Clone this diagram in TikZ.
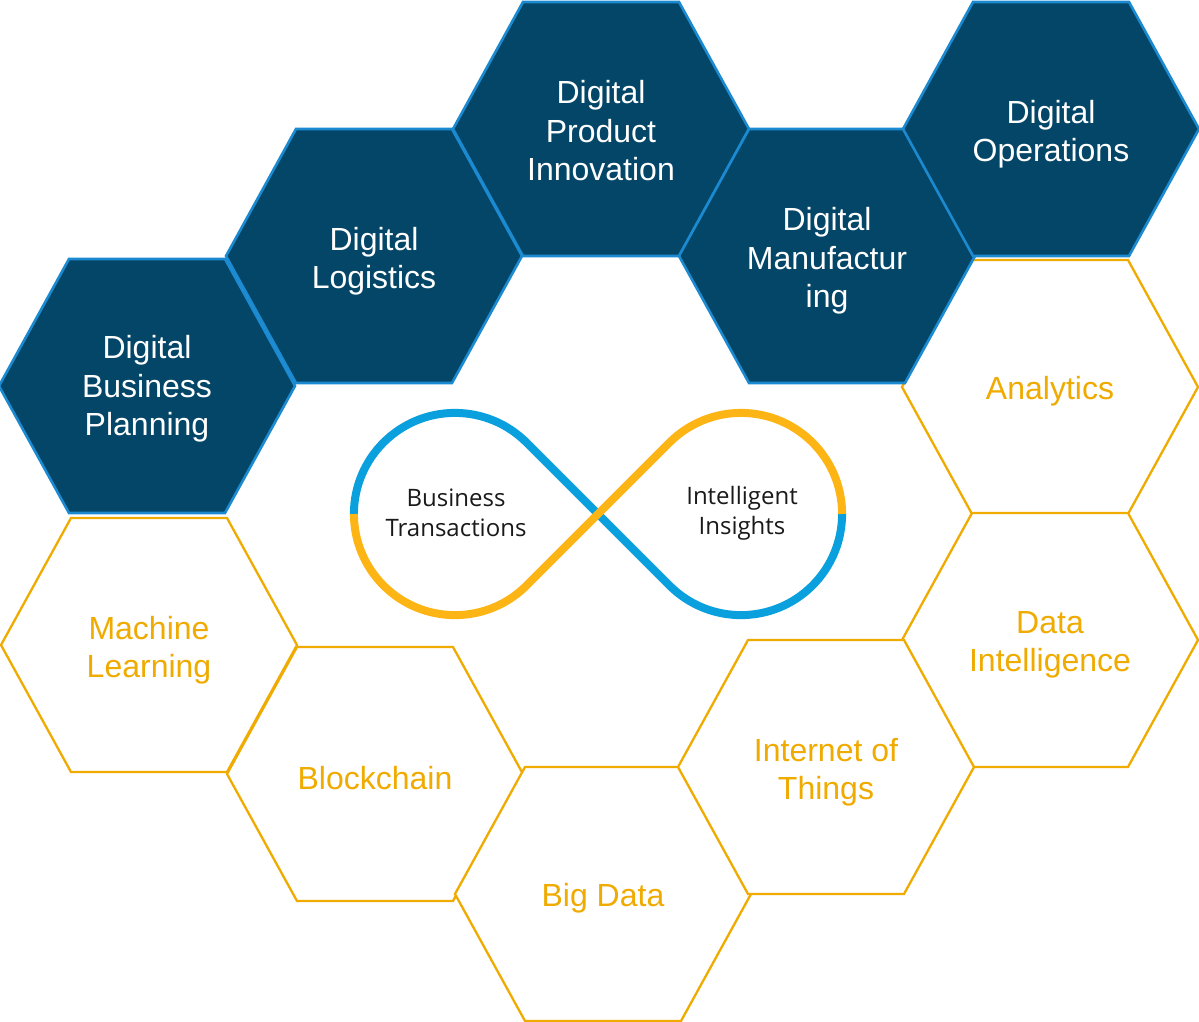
\documentclass[tikz,border=0pt]{standalone}
\usepackage{fontspec}
\setmainfont{Liberation Sans}
\newfontfamily\inffont{Open Sans}
\definecolor{navy}{HTML}{044668}
\definecolor{edgeblue}{HTML}{1B8AD0}
\definecolor{gold}{HTML}{F0AB00}
\definecolor{infblue}{HTML}{0AA0DE}
\definecolor{infgold}{HTML}{FDB515}
\definecolor{inftext}{HTML}{1A1A1A}
\tikzset{
  pics/hexa/.style={code={\path[pic actions] (-148,0) -- (-78,-127) -- (78,-127) -- (148,0) -- (78,127) -- (-78,127) -- cycle;}},
  darkhex/.style={fill=navy, draw=edgeblue, line width=2.6pt, line join=miter},
  lighthex/.style={fill=white, draw=gold, line width=2.3pt, line join=miter},
  dtext/.style={text=white, align=center, font=\fontsize{32}{38.5}\selectfont, inner sep=0pt},
  ltext/.style={text=gold, align=center, font=\fontsize{32}{38.5}\selectfont, inner sep=0pt},
  itext/.style={text=inftext, align=center, font=\inffont\fontsize{24}{30}\selectfont, inner sep=0pt},
  loopline/.style={line width=8pt, line cap=butt}
}
\begin{document}
\begin{tikzpicture}[x=1pt,y=-1pt]
\useasboundingbox (0,0) rectangle (1199,1022);
% light hexagons
\pic[lighthex] at (1050,387) {hexa};
\pic[lighthex] at (1050,640) {hexa};
\pic[lighthex] at (149,645) {hexa};
\pic[lighthex] at (375,774) {hexa};
\pic[lighthex] at (603,894) {hexa};
\pic[lighthex] at (826,767) {hexa};
% dark hexagons
\pic[darkhex] at (147,386) {hexa};
\pic[darkhex] at (374,256) {hexa};
\pic[darkhex] at (601,129) {hexa};
\pic[darkhex] at (827,256) {hexa};
\pic[darkhex] at (1051,129) {hexa};
% labels
\node[dtext] (dbp) at (147,389) {Digital\\Business\\Planning};
\node[dtext] (dl) at (374,261) {Digital\\Logistics};
\node[dtext] (dpi) at (601,131) {Digital\\Product\\Innovation};
\node[dtext] (dm) at (827,261) {Digital\\Manufactur\\ing};
\node[dtext] (dop) at (1051,134) {Digital\\Operations};
\node[ltext] (an) at (1050,391) {Analytics};
\node[ltext] (di) at (1050,645) {Data\\Intelligence};
\node[ltext] (ml) at (149,650) {Machine\\Learning};
\node[ltext] (bc) at (375,778) {Blockchain};
\node[ltext] (bd) at (603,898) {Big Data};
\node[ltext] (iot) at (826,772) {Internet of\\Things};
% infinity loop
\coordinate (L) at (455,514);
\coordinate (R) at (741,514);
\draw[loopline, infblue] (353.9,514) arc[start angle=-180, end angle=-45, radius=101.1]
  -- (669.5,585.5) arc[start angle=-225, end angle=-360, radius=101.1];
\draw[loopline, infgold] (842.1,514) arc[start angle=0, end angle=-135, radius=101.1]
  -- (526.5,585.5) arc[start angle=45, end angle=180, radius=101.1];
\node[itext] (bt) at (456,513) {Business\\Transactions};
\node[itext] (ii) at (742,513) {Intelligent\\Insights};
\end{tikzpicture}
\end{document}
